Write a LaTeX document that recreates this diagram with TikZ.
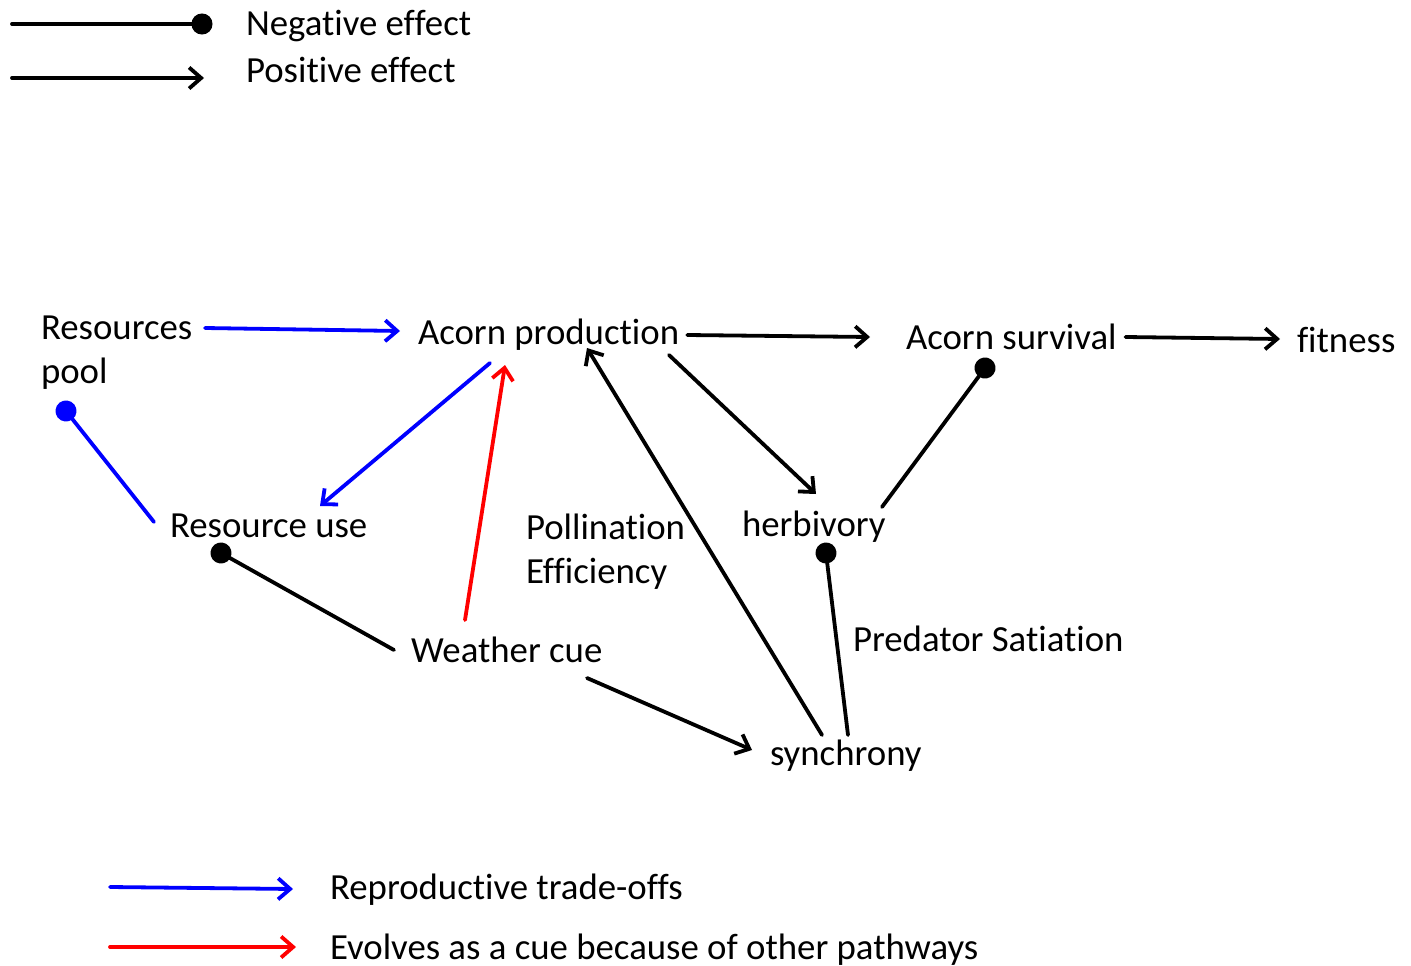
\documentclass[tikz,border=0pt]{standalone}
\usepackage{fontspec}
\setmainfont{Carlito}[RawFeature={-liga;-clig;-calt;-dlig}]
\usetikzlibrary{arrows.meta,calc}
\definecolor{pblue}{RGB}{0,0,255}
\definecolor{pred}{RGB}{255,0,0}
\tikzset{
  lbl/.style={inner sep=0pt, outer sep=0pt, font=\fontsize{36.8}{44}\selectfont},
  conn/.style={line width=3.8pt, line cap=round},
  posarrow/.style={conn, -{Straight Barb[length=12pt,width=21pt]}},
  negarrow/.style={conn, -{Circle[length=21pt]}, shorten >=-10.5pt},
}
\begin{document}
\begin{tikzpicture}[x=1pt,y=-1pt]
\useasboundingbox (0,0) rectangle (1411,966);
% legend top
\node[lbl, anchor=base west] (negl) at (246,36) {Negative effect};
\node[lbl, anchor=base west] (posl) at (246,82) {Positive effect};
\coordinate (n0) at (12,24);
\coordinate (p0) at (12,78);
\draw[negarrow] (n0) -- ($(negl.base west)+(-44,-12)$);
\draw[posarrow] (p0) -- ($(posl.base west)+(-42,-4)$);
% main nodes
\node[lbl, anchor=north west, align=left] (rp) at (41,316) {Resources\\pool};
\node[lbl, anchor=base west] (ap) at (418,344) {Acorn production};
\node[lbl, anchor=base west] (as) at (906,349) {Acorn survival};
\node[lbl, anchor=base west] (fit) at (1297,352) {fitness};
\node[lbl, anchor=base west] (ru) at (170,537) {Resource use};
\node[lbl, anchor=base west] (hb) at (742,536) {herbivory};
\node[lbl, anchor=base west] (wc) at (411,662) {Weather cue};
\node[lbl, anchor=base west] (sy) at (770,765) {synchrony};
\node[lbl, anchor=north west, align=left] (pe) at (526,514) {Pollination\\Efficiency};
\node[lbl, anchor=base west] (ps) at (853,651) {Predator Satiation};
% connectors
\draw[posarrow, pblue] ($(rp.north west)+(164,12)$) -- ($(ap.base west)+(-18,-13)$);
\draw[posarrow] ($(ap.base east)+(8,-9)$) -- ($(as.base west)+(-36,-12)$);
\draw[posarrow] ($(as.base east)+(9,-12)$) -- ($(fit.base west)+(-17,-13)$);
\draw[negarrow, pblue] ($(ru.base west)+(-16,-15)$) -- ($(rp.north west)+(25,95)$);
\draw[posarrow, pblue] ($(ap.base west)+(72,19)$) -- ($(ru.base west)+(150,-31)$);
\draw[posarrow, pred] ($(wc.base west)+(54,-42)$) -- ($(ap.base west)+(87,21)$);
\draw[negarrow] ($(wc.base west)+(-17,-12)$) -- ($(ru.base west)+(51,16)$);
\draw[posarrow] ($(wc.base west)+(176,16)$) -- ($(sy.base west)+(-18,-15)$);
\draw[posarrow] ($(sy.base west)+(52,-30)$) -- ($(ap.base west)+(169,4)$);
\draw[posarrow] ($(ap.base west)+(251,11)$) -- ($(hb.base west)+(74,-42)$);
\draw[negarrow] ($(hb.base west)+(140,-29)$) -- ($(as.base west)+(79,19)$);
\draw[negarrow] ($(sy.base west)+(78,-30)$) -- ($(hb.base west)+(84,17)$);
% legend bottom
\node[lbl, anchor=base west] (l1) at (330,899) {Reproductive trade-offs};
\node[lbl, anchor=base west] (l2) at (330,959) {Evolves as a cue because of other pathways};
\coordinate (b0) at (110,887);
\coordinate (r0) at (110,947);
\draw[posarrow, pblue] (b0) -- ($(l1.base west)+(-37,-10)$);
\draw[posarrow, pred] (r0) -- ($(l2.base west)+(-34,-12)$);
\end{tikzpicture}
\end{document}
